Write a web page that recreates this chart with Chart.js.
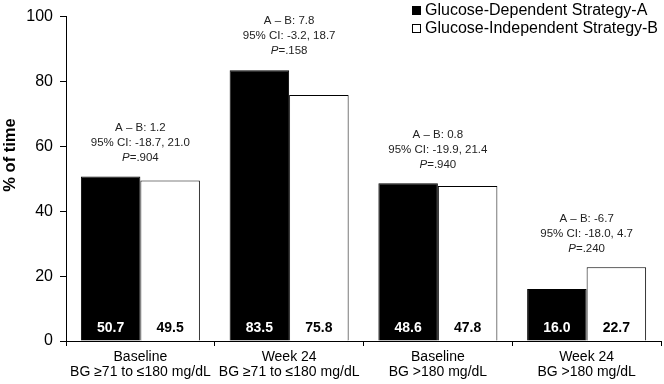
<!DOCTYPE html>
<html>
<head>
<meta charset="utf-8">
<script src="https://cdn.jsdelivr.net/npm/chart.js@4.4.0/dist/chart.umd.min.js"></script>
<style>
html,body{margin:0;padding:0;background:#fff;}
#wrap{width:664px;height:384px;position:relative;}
</style>
</head>
<body>
<div id="wrap"><canvas id="c" width="664" height="384"></canvas></div>
<script>
const categories = [
  ["Baseline", "BG \u226571 to \u2264180 mg/dL"],
  ["Week 24", "BG \u226571 to \u2264180 mg/dL"],
  ["Baseline", "BG >180 mg/dL"],
  ["Week 24", "BG >180 mg/dL"]
];
const seriesNames = ["Glucose-Dependent Strategy-A", "Glucose-Independent Strategy-B"];
const strategyA = [50.7, 83.5, 48.6, 16.0];
const strategyB = [49.5, 75.8, 47.8, 22.7];
const diffText = ["A \u2013 B: 1.2", "A \u2013 B: 7.8", "A \u2013 B: 0.8", "A \u2013 B: -6.7"];
const ciText = ["95% CI: -18.7, 21.0", "95% CI: -3.2, 18.7", "95% CI: -19.9, 21.4", "95% CI: -18.0, 4.7"];
const pText = ["=.904", "=.158", "=.940", "=.240"];
const yTicks = [0, 20, 40, 60, 80, 100];
const yTitle = "% of time";

const FONT = "'Liberation Sans', Arial, sans-serif";

const labelPlugin = {
  id: 'labels',
  afterDatasetsDraw(chart) {
    const ctx = chart.ctx;
    const area = chart.chartArea;
    ctx.save();
    // value labels inside bars
    ctx.font = "bold 14px " + FONT;
    ctx.textAlign = 'center';
    ctx.textBaseline = 'middle';
    chart.data.datasets.forEach((ds, di) => {
      const meta = chart.getDatasetMeta(di);
      meta.data.forEach((bar, i) => {
        ctx.fillStyle = di === 0 ? '#ffffff' : '#000000';
        ctx.fillText(ds.data[i].toFixed(1), bar.x, area.bottom - 13);
      });
    });
    // annotations
    const y = chart.scales.y;
    const x = chart.scales.x;
    ctx.fillStyle = '#222222';
    categories.forEach((c, i) => {
      const cx = x.getPixelForValue(i);
      const top = y.getPixelForValue(Math.max(strategyA[i], strategyB[i]));
      const pY = top - 19;
      ctx.font = "11.5px " + FONT;
      ctx.textAlign = 'center';
      ctx.fillText(diffText[i], cx, pY - 30);
      ctx.fillText(ciText[i], cx, pY - 15);
      ctx.font = "italic 11.5px " + FONT;
      const wP = ctx.measureText("P").width;
      ctx.font = "11.5px " + FONT;
      const wR = ctx.measureText(pText[i]).width;
      const start = cx - (wP + wR) / 2;
      ctx.textAlign = 'left';
      ctx.font = "italic 11.5px " + FONT;
      ctx.fillText("P", start, pY);
      ctx.font = "11.5px " + FONT;
      ctx.fillText(pText[i], start + wP, pY);
    });
    // legend
    ctx.textAlign = 'left';
    ctx.font = "16px " + FONT;
    ctx.fillStyle = '#000';
    ctx.fillRect(412, 6, 9, 9);
    ctx.fillText(seriesNames[0], 425, 10.5);
    ctx.fillStyle = '#fff';
    ctx.fillRect(412.5, 24.5, 8, 8);
    ctx.strokeStyle = '#000';
    ctx.lineWidth = 1;
    ctx.strokeRect(412.5, 24.5, 8, 8);
    ctx.fillStyle = '#000';
    ctx.fillText(seriesNames[1], 425, 29);
    // y title
    ctx.save();
    ctx.translate(15, 155);
    ctx.rotate(-Math.PI / 2);
    ctx.font = "bold 16.5px " + FONT;
    ctx.textAlign = 'center';
    ctx.textBaseline = 'alphabetic';
    ctx.fillStyle = '#000';
    ctx.fillText(yTitle, 0, 0);
    ctx.restore();
    ctx.restore();
  }
};

new Chart(document.getElementById('c'), {
  type: 'bar',
  data: {
    labels: categories,
    datasets: [
      { label: seriesNames[0], data: strategyA, backgroundColor: '#000000', borderColor: '#000000', borderWidth: 1 },
      { label: seriesNames[1], data: strategyB, backgroundColor: '#ffffff', borderColor: '#000000', borderWidth: 1 }
    ]
  },
  options: {
    responsive: false,
    animation: false,
    devicePixelRatio: 1,
    layout: { padding: { top: 13, right: 3, left: 0, bottom: 0 } },
    plugins: { legend: { display: false }, tooltip: { enabled: false } },
    datasets: { bar: { categoryPercentage: 0.8, barPercentage: 1.0 } },
    scales: {
      x: {
        offset: true,
        grid: { display: true, drawOnChartArea: false, offset: true, color: '#000', tickLength: 5, tickWidth: 1 },
        border: { display: true, color: '#000', width: 1 },
        ticks: { color: '#000', font: { family: FONT, size: 14, lineHeight: 15 / 14 }, padding: 4, maxRotation: 0, autoSkip: false },
        afterFit(s) { s.height = 43; }
      },
      y: {
        min: 0, max: 100,
        afterBuildTicks(s) { s.ticks = yTicks.map(v => ({ value: v })); },
        grid: { display: true, drawOnChartArea: false, color: '#000', tickLength: 6, tickWidth: 1 },
        border: { display: true, color: '#000', width: 1 },
        ticks: { color: '#000', font: { family: FONT, size: 16 }, padding: 7 },
        title: { display: false },
        afterFit(s) { s.width = 66; }
      }
    }
  },
  plugins: [labelPlugin]
});
</script>
</body>
</html>
